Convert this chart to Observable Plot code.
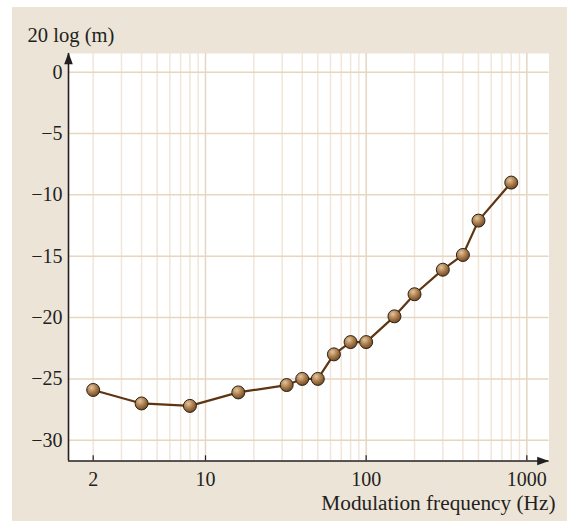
<!DOCTYPE html>
<html><head><meta charset="utf-8">
<script src="https://cdn.jsdelivr.net/npm/d3@7"></script>
<script src="https://cdn.jsdelivr.net/npm/@observablehq/plot@0.6"></script>
<style>
body{margin:0;background:#fff;}
#wrap{position:relative;width:567px;height:521px;overflow:hidden;}
#bg{position:absolute;left:12px;top:7px;right:0;bottom:0;background:#ede4d8;}
#chart{position:absolute;left:0;top:0;}
</style></head><body>
<div id="wrap"><div id="bg"></div><div id="chart"></div></div>
<script>
const freq = [2, 4, 8, 16, 32, 40, 50, 63, 80, 100, 150, 200, 300, 400, 500, 800];
const level = [-25.9, -27.0, -27.2, -26.1, -25.5, -25.0, -25.0, -23.0, -22.0, -22.0, -19.9, -18.1, -16.1, -14.9, -12.1, -9.0];
const xTicks = [2, 10, 100, 1000];
const yTicks = [0, -5, -10, -15, -20, -25, -30];
const minorX = [2,3,4,5,6,7,8,9,20,30,40,50,60,70,80,90,200,300,400,500,600,700,800,900];
const decadeX = [10, 100, 1000];
const xLabel = "Modulation frequency (Hz)";
const yLabel = "20 log (m)";

const xDom = [1.404, 1374];
const yDom = [-31.69, 1.52];
const data = freq.map((f, i) => ({f, v: level[i]}));

const arrowUp = {draw(ctx) { ctx.moveTo(0, 0); ctx.lineTo(-4.3, 11.8); ctx.lineTo(4.3, 11.8); ctx.closePath(); }};
const arrowRight = {draw(ctx) { ctx.moveTo(0, 0); ctx.lineTo(-11.8, -4.3); ctx.lineTo(-11.8, 4.3); ctx.closePath(); }};
const ink = "#231f20";

const svg = Plot.plot({
  width: 567, height: 521,
  marginLeft: 68, marginRight: 18.5, marginTop: 53, marginBottom: 60.5,
  style: {background: "transparent", fontFamily: "'Liberation Serif', 'DejaVu Serif', serif", fontSize: "20px", color: ink},
  x: {type: "log", domain: xDom, ticks: xTicks, tickFormat: d => String(d), tickSize: 0, tickPadding: 11, label: null},
  y: {domain: yDom, ticks: yTicks, tickSize: 0, tickPadding: 6, label: null},
  marks: [
    Plot.frame({fill: "white", stroke: "none"}),
    Plot.ruleX(minorX, {stroke: "#f1e6d9", strokeWidth: 1.5}),
    Plot.ruleX(decadeX, {stroke: "#e6d5c2", strokeWidth: 1.5}),
    Plot.ruleY(yTicks, {stroke: "#e8d6c0", strokeWidth: 1.5}),
    Plot.ruleX(xTicks, {y1: yDom[0], y2: yDom[0] + 0.42, stroke: ink, strokeWidth: 1.2}),
    Plot.ruleY([yDom[0]], {stroke: ink, strokeWidth: 1.6}),
    Plot.ruleX([xDom[0]], {stroke: ink, strokeWidth: 1.6}),
    Plot.dot([{x: xDom[0], y: yDom[1]}], {x: "x", y: "y", symbol: arrowUp, fill: ink, stroke: "none", dy: -1}),
    Plot.dot([{x: xDom[1], y: yDom[0]}], {x: "x", y: "y", symbol: arrowRight, fill: ink, stroke: "none"}),
    Plot.line(data, {x: "f", y: "v", stroke: "#5e3510", strokeWidth: 2.2}),
    Plot.dot(data, {x: "f", y: "v", r: 6.5, fill: "url(#ball)", stroke: "#2b2219", strokeWidth: 1}),
    Plot.text([yLabel], {frameAnchor: "top-left", dx: -41, dy: -12, textAnchor: "start", lineAnchor: "bottom", fontSize: 20.6}),
    Plot.text([xLabel], {frameAnchor: "bottom-right", dx: 6.5, dy: 48.5, textAnchor: "end", lineAnchor: "bottom", fontSize: 21.3})
  ]
});
d3.select(svg).insert("defs", ":first-child").html(
  '<radialGradient id="ball" cx="0.38" cy="0.32" r="0.7">' +
  '<stop offset="0" stop-color="#e3c59c"/><stop offset="0.55" stop-color="#a97a4a"/><stop offset="1" stop-color="#6e4822"/>' +
  '</radialGradient>');
document.getElementById("chart").appendChild(svg);
</script>
</body></html>
